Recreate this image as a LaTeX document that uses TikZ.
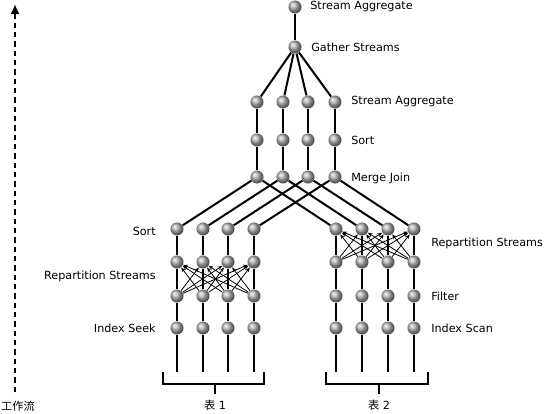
\documentclass[tikz,border=0pt]{standalone}
\usepackage{fontspec}
\setmainfont{DejaVu Sans}
\newfontfamily\cjk{Noto Sans CJK SC}
\usetikzlibrary{arrows.meta}
\begin{document}
\begin{tikzpicture}[x=0.75pt,y=-0.75pt,
  ballnode/.style={circle,minimum size=9.8pt,inner sep=0pt,shading=ball,ball color=gray!62},
  conn/.style={line width=1.5pt},
  xconn/.style={line width=0.6pt,-{Stealth[length=3.6pt,width=2.8pt]}},
  brk/.style={line width=1.5pt},
  lbl/.style={font=\fontsize{8.4}{10}\selectfont,inner sep=0pt},
]
\useasboundingbox (0,0) rectangle (547,414);
% top
\node[ballnode] (T) at (295,7) {};
\node[ballnode] (G) at (295,47) {};
\foreach \i/\x in {1/257,2/283,3/308,4/335}{
  \node[ballnode] (Ua\i) at (\x,102) {};
  \node[ballnode] (Ub\i) at (\x,140) {};
  \node[ballnode] (Uc\i) at (\x,177) {};
}
\foreach \i/\x in {1/177,2/203,3/228,4/254}{
  \node[ballnode] (La\i) at (\x,229) {};
  \node[ballnode] (Lb\i) at (\x,262) {};
  \node[ballnode] (Lc\i) at (\x,296) {};
  \node[ballnode] (Ld\i) at (\x,328) {};
  \coordinate (Le\i) at (\x,372);
}
\foreach \i/\x in {1/336,2/362,3/388,4/414}{
  \node[ballnode] (Ra\i) at (\x,229) {};
  \node[ballnode] (Rb\i) at (\x,262) {};
  \node[ballnode] (Rc\i) at (\x,296) {};
  \node[ballnode] (Rd\i) at (\x,328) {};
  \coordinate (Re\i) at (\x,372);
}
% connectors
\draw[conn] (T) -- (G);
\foreach \i in {1,...,4}{
  \draw[conn] (G) -- (Ua\i);
  \draw[conn] (Ua\i) -- (Ub\i);
  \draw[conn] (Ub\i) -- (Uc\i);
  \draw[conn] (Uc\i) -- (La\i);
  \draw[conn] (Uc\i) -- (Ra\i);
  \draw[conn] (La\i) -- (Lb\i);
  \draw[conn] (Lb\i) -- (Lc\i);
  \draw[conn] (Lc\i) -- (Ld\i);
  \draw[conn] (Ld\i) -- (Le\i);
  \draw[conn] (Ra\i) -- (Rb\i);
  \draw[conn] (Rb\i) -- (Rc\i);
  \draw[conn] (Rc\i) -- (Rd\i);
  \draw[conn] (Rd\i) -- (Re\i);
}
\foreach \i in {1,...,4}{
  \foreach \j in {1,...,4}{
    \ifnum\i=\j\else
      \draw[xconn] (Lc\j) -- (Lb\i);
      \draw[xconn] (Rb\j) -- (Ra\i);
    \fi
  }
}
% labels
\node[lbl,anchor=west] (tT) at (310,7) {Stream Aggregate};
\node[lbl,anchor=west] (tG) at (311,47) {Gather Streams};
\node[lbl,anchor=west] (tUa) at (351,102) {Stream Aggregate};
\node[lbl,anchor=west] (tUb) at (351,140) {Sort};
\node[lbl,anchor=west] (tUc) at (351,178) {Merge Join};
\node[lbl,anchor=east] (tLa) at (156,231) {Sort};
\node[lbl,anchor=east] (tLb) at (156,276) {Repartition Streams};
\node[lbl,anchor=east] (tLd) at (156,328) {Index Seek};
\node[lbl,anchor=west] (tRa) at (431,243) {Repartition Streams};
\node[lbl,anchor=west] (tRc) at (431,296) {Filter};
\node[lbl,anchor=west] (tRd) at (431,328) {Index Scan};
% brackets
\coordinate (b1a) at (163,372); \coordinate (b1b) at (163,384);
\coordinate (b1c) at (264,384); \coordinate (b1d) at (264,372);
\coordinate (b1m) at (215,384); \coordinate (b1t) at (215,394);
\draw[brk] (b1a) -- (b1b) -- (b1c) -- (b1d);
\draw[brk] (b1m) -- (b1t);
\node[lbl] (tab1) at (215,405) {{\cjk 表} 1};
\coordinate (b2a) at (326,372); \coordinate (b2b) at (326,384);
\coordinate (b2c) at (428,384); \coordinate (b2d) at (428,372);
\coordinate (b2m) at (379,384); \coordinate (b2t) at (379,394);
\draw[brk] (b2a) -- (b2b) -- (b2c) -- (b2d);
\draw[brk] (b2m) -- (b2t);
\node[lbl] (tab2) at (379,405) {{\cjk 表} 2};
% workflow arrow
\coordinate (fs) at (15,392);
\coordinate (fe) at (15,4);
\draw[line width=1.5pt,dash pattern=on 4pt off 3pt,-{Latex[length=7.5pt,width=6.75pt]}] (fs) -- (fe);
\node[lbl] (flow) at (18,406) {\cjk 工作流};
\end{tikzpicture}
\end{document}
